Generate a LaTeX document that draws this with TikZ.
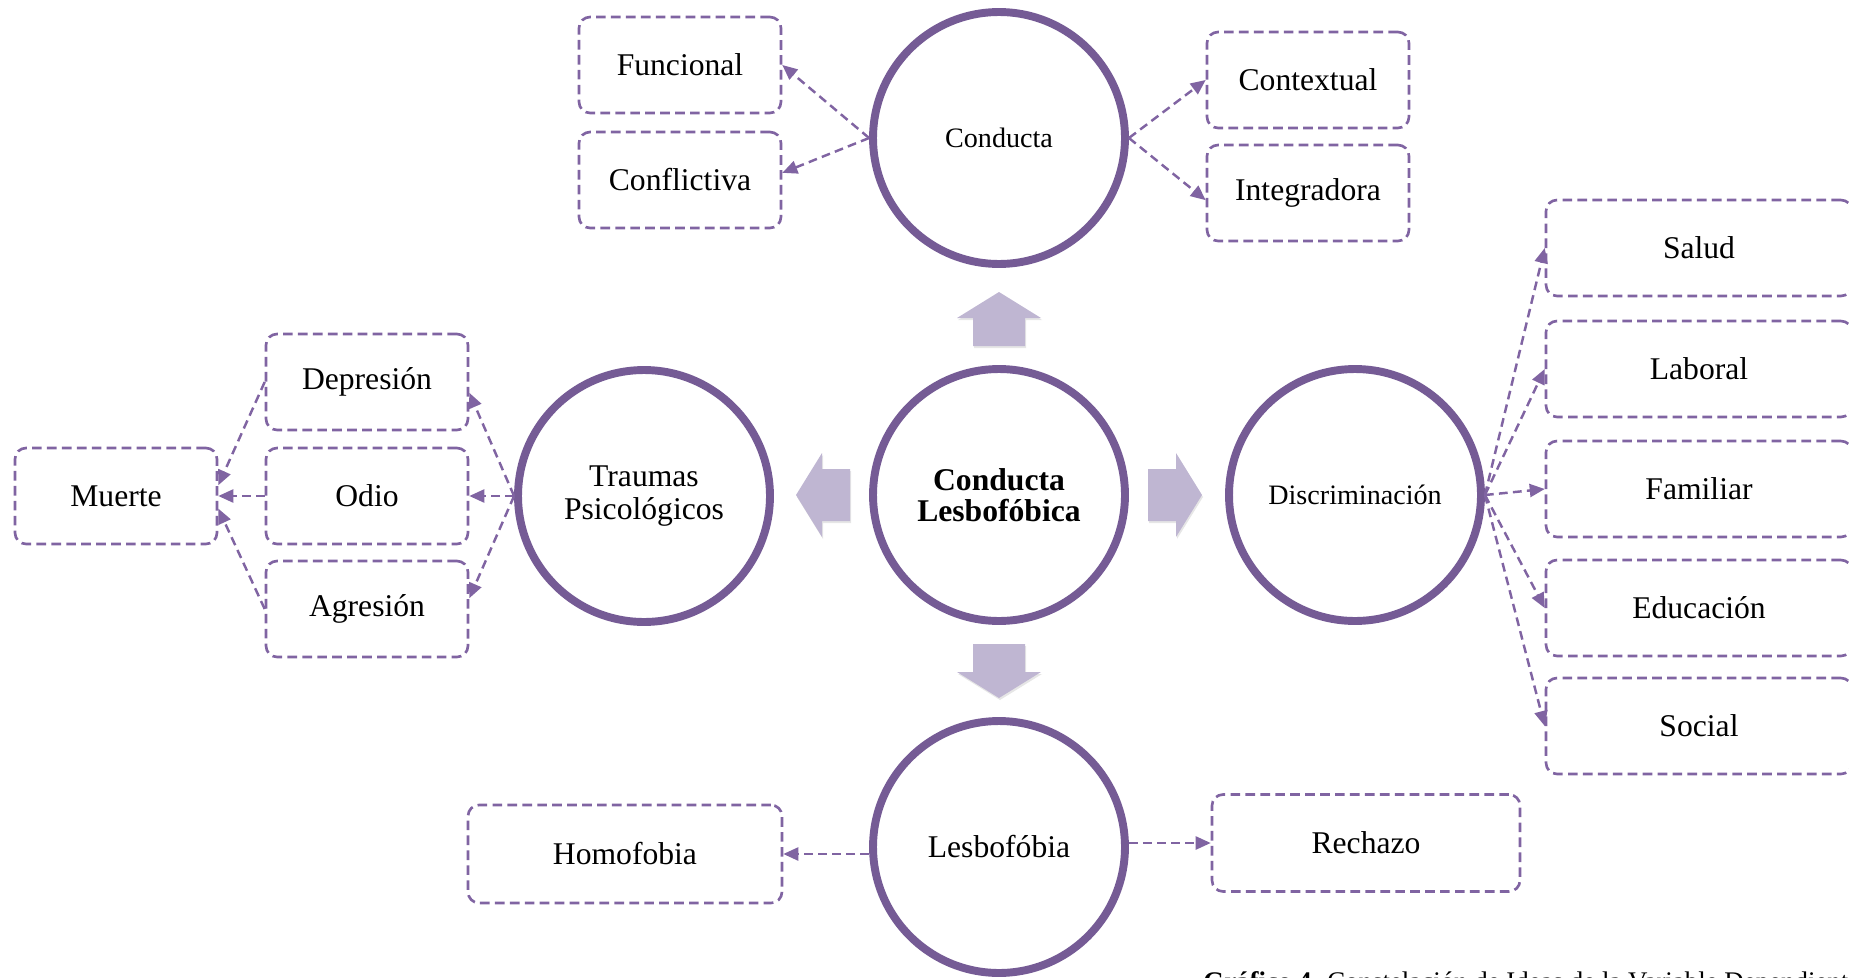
\documentclass[tikz,border=0pt]{standalone}
\usepackage{fontspec}
\setmainfont{Liberation Serif}
\usetikzlibrary{arrows.meta,shadows}

\definecolor{ringpurple}{RGB}{117,91,149}
\definecolor{dashpurple}{RGB}{128,100,162}
\definecolor{blockpurple}{RGB}{191,182,210}

\tikzset{
    idea/.style={circle, draw=ringpurple, line width=4.5pt, fill=white, minimum size=5.04cm, inner sep=0pt, align=center,
        font=\fontsize{18}{18.8}\selectfont, drop shadow={opacity=0.15, shadow xshift=0.03cm, shadow yshift=-0.06cm}},
    leaf/.style={draw=dashpurple, line width=1.5pt, dash pattern=on 5.5pt off 3pt, rounded corners=0.22cm, fill=white,
        minimum width=4.04cm, minimum height=1.92cm, inner sep=0pt, font=\fontsize{18}{18.8}\selectfont},
    link/.style={draw=dashpurple, line width=1.4pt, dash pattern=on 5pt off 3pt, -{Triangle[length=0.3cm, width=0.26cm]}},
}

\begin{document}
\begin{tikzpicture}[x=0.02cm, y=-0.02cm]

    \useasboundingbox (0, 0) rectangle (1849, 977);
    \clip (0, 0) rectangle (1849, 977);

    % block arrows round the centre
    \coordinate (hub) at (999, 495);
    \foreach \a in {0, 90, 180, 270} {
        \fill[blockpurple, drop shadow={opacity=0.2, shadow xshift=0.02cm, shadow yshift=-0.04cm}]
            [shift={(hub)}, rotate=\a] (149, -26) -- (177, -26) -- (177, -42) -- (203, 0) -- (177, 42) -- (177, 26) -- (149, 26) -- cycle;
    }

    \node[idea, font=\fontsize{18}{17.6}\selectfont\bfseries] (central) at (hub) {Conducta\\Lesbofóbica};
    \node[idea, font=\fontsize{16}{18}\selectfont] (conducta) at (999, 138) {Conducta};
    \node[idea] (traumas) at (644, 496) {Traumas\\Psicológicos};
    \node[idea, font=\fontsize{16}{18}\selectfont] (discriminacion) at (1355, 495) {Discriminación};
    \node[idea] (lesbofobia) at (999, 847) {Lesbofóbia};

    \foreach \id/\txt/\x/\y in {funcional/Funcional/680/65, conflictiva/Conflictiva/680/180,
        contextual/Contextual/1308/80, integradora/Integradora/1308/193,
        depresion/Depresión/367/382, odio/Odio/367/496, agresion/Agresión/367/609, muerte/Muerte/116/496} {
        \node[leaf] (\id) at (\x, \y) {\txt};
    }

    \foreach \id/\txt/\y in {salud/Salud/248, laboral/Laboral/369, familiar/Familiar/489, educacion/Educación/608, social/Social/726} {
        \node[leaf, minimum width=6.12cm] (\id) at (1699, \y) {\txt};
    }

    \node[leaf, minimum width=6.28cm, minimum height=1.96cm] (homofobia) at (625, 854) {Homofobia};
    \node[leaf, minimum width=6.16cm, minimum height=1.94cm] (rechazo) at (1366, 843) {Rechazo};

    \draw[link] (conducta.west) -- (funcional.east);
    \draw[link] (conducta.west) -- (conflictiva.4);
    \draw[link] (conducta.east) -- (contextual.west);
    \draw[link] (conducta.east) -- (integradora.184);

    \draw[link] (traumas.west) -- (depresion.-6);
    \draw[link] (traumas.west) -- (odio.east);
    \draw[link] (traumas.west) -- (agresion.6);

    \draw[link] (depresion.west) -- (muerte.6);
    \draw[link] (odio.west) -- (muerte.east);
    \draw[link] (agresion.west) -- (muerte.-7);

    \foreach \id in {salud, laboral, familiar, educacion, social} {
        \draw[link] (discriminacion.east) -- (\id.west);
    }

    \draw[link] (homofobia.east -| lesbofobia.west) -- (homofobia.east);
    \draw[link] (lesbofobia.east |- rechazo.west) -- (rechazo.west);

    \node[anchor=base west, inner sep=0pt, font=\fontsize{15.3}{17}\selectfont] (caption) at (1203, 990)
        {\textbf{Gráfico 4.} Constelación de Ideas de la Variable Dependiente};

\end{tikzpicture}
\end{document}
